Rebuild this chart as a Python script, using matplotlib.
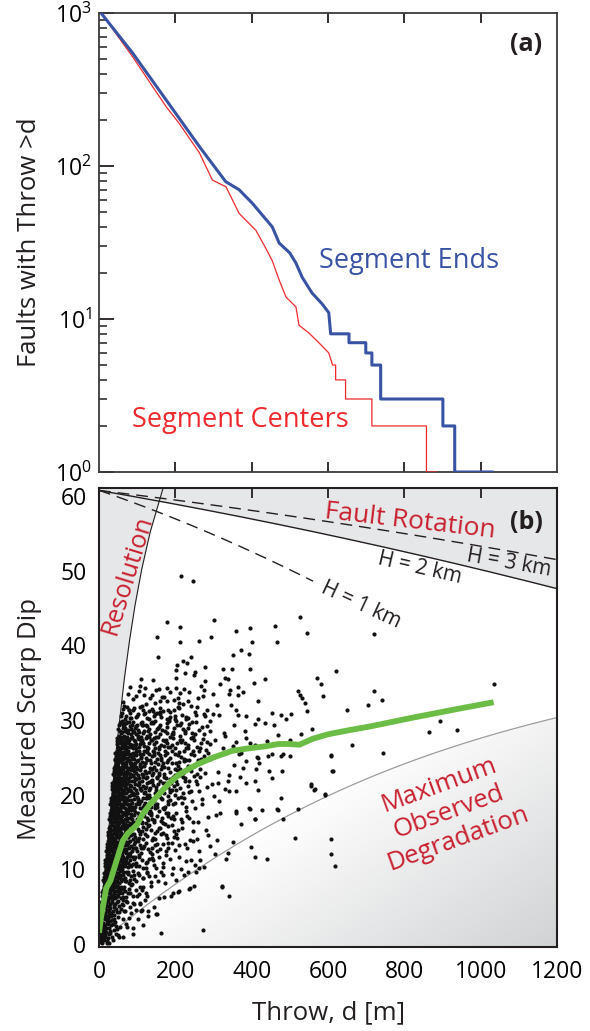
import numpy as np
import matplotlib
matplotlib.use("Agg")
import matplotlib.pyplot as plt
from matplotlib.patches import Polygon
from matplotlib.ticker import LogLocator, NullFormatter, LogFormatterSciNotation, FixedLocator

plt.rcParams['font.family'] = ['Open Sans', 'DejaVu Sans']
plt.rcParams['mathtext.fontset'] = 'custom'
plt.rcParams['mathtext.rm'] = 'Open Sans'
plt.rcParams['mathtext.it'] = 'Open Sans:italic'
plt.rcParams['mathtext.bf'] = 'Open Sans:bold'

# ---------------- Panel (a): cumulative counts ----------------
ends_throw = [0, 6, 88, 176, 263, 332, 367, 402, 454, 472, 500, 516, 532, 558, 584, 602,
              607, 655, 655, 699, 699, 715, 715, 738, 738, 901, 901, 932, 932, 1030]
ends_count = [1100, 995, 548, 270, 134, 79, 70, 57, 40, 31.4, 27, 23.2, 18.8, 14.8, 12.6, 11,
              8, 8, 7, 7, 6, 6, 5, 5, 3, 3, 2, 2, 1, 1]
centers_throw = [0, 6, 88, 176, 210, 263, 297, 333, 367, 411, 437, 454, 472, 490, 516, 524,
                 550, 576, 602, 612, 620, 620, 646, 646, 715, 715, 858, 858, 885]
centers_count = [1100, 995, 518, 244, 190, 122, 81, 73, 49, 38, 29, 24, 18, 13.9, 12, 9.1,
                 8.1, 7, 6, 5, 5, 4, 4, 3, 3, 2, 2, 1, 1]

# ---------------- Panel (b): scarp dip vs throw ----------------
green_throw = [0, 5, 19, 30, 45, 62, 75, 88, 100, 114, 135, 158, 185, 210, 240, 263, 300,
               350, 390, 437, 470, 498, 525, 560, 600, 650, 715, 819, 950, 1034]
green_dip = [1.5, 3.5, 7.5, 8.5, 11.0, 13.8, 14.8, 15.4, 16.0, 17.4, 18.8, 20.1, 21.6, 22.7,
             23.6, 24.2, 25.0, 25.9, 26.2, 26.5, 26.8, 26.8, 26.7, 27.5, 28.1, 28.6, 29.2,
             30.3, 31.6, 32.4]

res_dip = [0, 5, 10, 15, 20, 25, 30, 35, 40, 45, 50, 55, 61.1]
res_throw = [0, 8, 16, 25, 34, 43, 54, 65, 78, 93, 111, 133, 168]

degr_throw = [0, 40, 112, 216, 330, 434, 521, 626, 733, 890, 1200]
degr_dip = [0, 1.8, 4.8, 8.8, 12.4, 15.3, 17.8, 20.6, 22.6, 26.0, 30.3]

rot_throw = [0, 250, 472, 800, 1200]
rot_h2_dip = [60.8, 58.4, 56.2, 52.6, 47.6]
rot_h3_dip = [60.8, 59.1, 57.6, 55.0, 51.5]
rot_h1_throw = [0, 250, 400, 561]
rot_h1_dip = [60.8, 55.9, 52.6, 48.6]

# dense cluster, first reading (by 2-degree band)
dense_pts = [
 (1,0.3),(3,0.8),(2,1.5),(5,0.5),(6,1.2),(8,1.8),(4,1.9),(10,0.7),(12,1.4),(9,0.2),(14,1.9),(16,0.9),
 (19,1.6),(22,0.4),(25,1.3),(28,1.8),(33,0.9),(7,0.6),(11,1.1),(2,0.6),
 (2,2.4),(4,3.1),(6,2.2),(8,3.6),(10,2.8),(12,3.9),(13,2.3),(15,3.3),(17,2.6),(19,3.8),(21,2.9),(24,3.5),
 (26,2.2),(29,3.1),(32,3.8),(36,2.7),(40,3.4),(45,2.4),(3,3.7),(9,2.1),(16,3.9),
 (5,4.3),(7,5.2),(9,4.6),(11,5.8),(13,4.2),(14,5.4),(16,4.8),(18,5.9),(20,4.4),(22,5.1),(24,5.7),(27,4.6),
 (29,5.3),(32,4.1),(35,5.6),(38,4.9),(42,5.4),(46,4.3),(51,5.8),(57,4.7),(64,5.2),(10,4.1),(19,5.5),
 (8,6.4),(10,7.3),(12,6.1),(13,7.8),(15,6.7),(17,7.2),(18,6.2),(20,7.7),(22,6.8),(24,6.3),(25,7.5),(27,6.9),
 (29,7.9),(31,6.4),(33,7.2),(36,6.6),(38,7.6),(41,6.2),(44,7.1),(47,7.8),(51,6.5),(55,7.3),(60,6.9),(66,7.7),
 (72,6.3),(79,7.4),(14,6.9),(21,6.0),(34,7.9),
 (11,8.6),(13,9.5),(15,8.2),(16,9.1),(18,8.8),(19,9.8),(21,8.4),(23,9.3),(25,8.9),(26,9.9),(28,8.3),(30,9.4),
 (32,8.7),(34,9.7),(36,8.1),(38,9.2),(40,8.6),(43,9.6),(45,8.3),(48,9.1),(51,8.8),(54,9.8),(58,8.4),(62,9.3),
 (67,8.9),(72,9.7),(78,8.2),(85,9.1),(93,8.7),(102,9.5),(17,8.0),(29,8.1),(41,9.9),
 (15,10.4),(17,11.3),(19,10.8),(20,11.9),(22,10.2),(24,11.1),(26,10.6),(27,11.7),(29,10.9),(31,11.5),(33,10.3),
 (35,11.2),(37,10.7),(39,11.8),(41,10.4),(43,11.3),(46,10.9),(48,11.6),(51,10.2),(53,11.1),(56,10.6),(59,11.9),
 (62,10.4),(65,11.4),(69,10.8),(73,11.7),(77,10.3),(82,11.2),(88,10.7),(95,11.6),(104,10.5),(113,11.3),
 (124,10.9),(138,11.5),(23,10.0),(44,10.1),(70,11.0),
 (19,12.5),(21,13.4),(23,12.2),(24,13.8),(26,12.9),(28,13.3),(30,12.4),(31,13.9),(33,12.7),(35,13.5),(37,12.1),
 (39,13.1),(41,12.8),(43,13.7),(45,12.3),(47,13.2),(50,12.6),(52,13.6),(55,12.2),(57,13.1),(60,12.9),(63,13.8),
 (66,12.4),(69,13.3),(72,12.7),(76,13.6),(80,12.2),(84,13.1),(89,12.8),(94,13.7),(100,12.4),(107,13.3),
 (115,12.9),(124,13.6),(134,12.3),(146,13.2),(160,12.7),(27,12.0),(48,12.0),(75,12.1),(38,14.0),
 (23,14.6),(25,15.5),(27,14.2),(28,15.8),(30,14.9),(32,15.3),(34,14.4),(35,15.9),(37,14.7),(39,15.2),(41,14.1),
 (43,15.6),(45,14.8),(47,15.4),(49,14.3),(51,15.7),(54,14.6),(56,15.1),(58,14.9),(61,15.8),(64,14.2),(67,15.3),
 (70,14.7),(73,15.6),(77,14.4),(81,15.2),(85,14.9),(90,15.8),(95,14.3),(101,15.4),(108,14.8),(116,15.7),
 (125,14.5),(135,15.3),(147,14.9),(160,15.6),(175,14.6),(59,14.0),(88,14.1),
 (27,16.7),(29,17.6),(31,16.3),(32,17.9),(34,16.9),(36,17.3),(38,16.5),(39,17.8),(41,16.8),(43,17.2),(45,16.1),
 (47,17.7),(49,16.9),(51,17.4),(53,16.4),(55,17.8),(58,16.6),(60,17.2),(62,16.2),(65,17.6),(68,16.8),(71,17.3),
 (74,16.5),(77,17.9),(81,16.9),(85,17.4),(89,16.3),(94,17.7),(99,16.7),(105,17.2),(111,16.4),(118,17.6),
 (126,16.9),(135,17.3),(145,16.6),(156,17.8),(168,16.2),(182,17.1),(196,16.7),(46,16.0),(70,16.0),(100,16.1),
 (30,18.8),(32,19.6),(34,18.3),(36,19.9),(37,18.9),(39,19.3),(41,18.5),(43,19.8),(45,18.7),(47,19.2),(49,18.1),
 (51,19.7),(53,18.9),(55,19.4),(57,18.4),(60,19.8),(62,18.6),(65,19.2),(67,18.2),(70,19.6),(73,18.8),(76,19.3),
 (79,18.5),(83,19.9),(87,18.9),(91,19.4),(95,18.3),(100,19.7),(105,18.7),(110,19.2),(116,18.4),(123,19.6),
 (130,18.9),(138,19.3),(147,18.6),(157,19.8),(168,18.2),(180,19.1),(193,18.7),(208,19.5),(56,18.0),(85,18.0),
 (120,18.1),
 (33,20.8),(35,21.6),(37,20.3),(39,21.9),(41,20.9),(43,21.3),(45,20.5),(47,21.8),(49,20.7),(51,21.2),(53,20.1),
 (55,21.7),(57,20.9),(59,21.4),(61,20.4),(64,21.8),(66,20.6),(69,21.2),(71,20.2),(74,21.6),(77,20.8),(80,21.3),
 (83,20.5),(87,21.9),(91,20.9),(95,21.4),(99,20.3),(104,21.7),(109,20.7),(114,21.2),(120,20.4),(127,21.6),
 (134,20.9),(142,21.3),(150,20.6),(159,21.8),(169,20.2),(180,21.1),(192,20.7),(205,21.5),(219,20.3),(234,21.2),
 (60,20.0),(93,20.1),(130,20.0),
 (37,22.8),(39,23.6),(41,22.3),(43,23.9),(45,22.9),(47,23.3),(49,22.5),(51,23.8),(53,22.7),(55,23.2),(57,22.1),
 (59,23.7),(61,22.9),(63,23.4),(66,22.4),(68,23.8),(71,22.6),(73,23.2),(76,22.2),(79,23.6),(82,22.8),(85,23.3),
 (89,22.5),(92,23.9),(96,22.9),(100,23.4),(105,22.3),(110,23.7),(115,22.7),(121,23.2),(127,22.4),(134,23.6),
 (141,22.9),(149,23.3),(157,22.6),(166,23.8),(176,22.2),(187,23.1),(199,22.7),(212,23.5),(226,22.3),(241,23.2),
 (258,22.8),(64,22.0),(98,22.1),(140,22.0),
 (41,24.8),(43,25.6),(45,24.3),(47,25.9),(49,24.9),(51,25.3),(53,24.5),(55,25.8),(57,24.7),(60,25.2),(62,24.1),
 (64,25.7),(67,24.9),(69,25.4),(72,24.4),(75,25.8),(78,24.6),(81,25.2),(84,24.2),(88,25.6),(92,24.8),(96,25.3),
 (100,24.5),(105,25.9),(110,24.9),(115,25.4),(121,24.3),(127,25.7),(133,24.7),(140,25.2),(147,24.4),(155,25.6),
 (163,24.9),(172,25.3),(182,24.6),(192,25.8),(203,24.2),(215,25.1),(228,24.7),(242,25.5),(258,24.3),(275,25.2),
 (70,24.0),(108,24.1),
 (46,26.8),(48,27.6),(50,26.3),(53,27.9),(55,26.9),(57,27.3),(60,26.5),(62,27.8),(65,26.7),(67,27.2),(70,26.1),
 (73,27.7),(76,26.9),(79,27.4),(82,26.4),(86,27.8),(90,26.6),(94,27.2),(98,26.2),(103,27.6),(108,26.8),(113,27.3),
 (119,26.5),(125,27.9),(132,26.9),(139,27.4),(146,26.3),(154,27.7),(163,26.7),(172,27.2),(182,26.4),(193,27.6),
 (205,26.9),(218,27.3),(232,26.6),(247,27.8),(264,26.2),(282,27.1),
 (51,28.8),(54,29.6),(57,28.3),(60,29.9),(63,28.9),(66,29.3),(69,28.5),(73,29.8),(77,28.7),(81,29.2),(85,28.1),
 (90,29.7),(95,28.9),(100,29.4),(106,28.4),(112,29.8),(119,28.6),(126,29.2),(134,28.2),(142,29.6),(151,28.8),
 (161,29.3),(172,28.5),(184,29.9),(197,28.9),(211,29.4),(226,28.3),(243,29.7),(262,28.7),(283,29.2),
 (57,30.6),(62,31.5),(68,30.2),(74,31.8),(81,30.9),(89,31.3),(98,30.4),(108,31.7),(119,30.8),(131,31.2),
 (145,30.5),(160,31.6),(177,30.1),(196,31.4),(217,30.7),(240,31.9),
 (64,32.4),(75,33.5),(90,32.8),(105,33.9),(122,32.2),(140,33.3),(160,32.6),(185,33.8),(210,32.3),
 (112,7.2),(125,9.6),(140,12.1),(155,8.4),(168,10.8),(182,13.5),(195,6.9),(210,11.7),(224,9.2),(238,13.9),
 (250,7.8),(262,12.4),(275,10.3),(120,5.9),(135,7.8),(150,10.2),(170,6.3),(190,9.4),(205,14.2),(230,12.9),
 (245,15.1),(260,16.4),(285,14.6),(215,16.8),(190,15.9),(175,11.9),(158,6.1),(143,4.9),(128,3.8),
]

# dense cluster, second reading (fills between the first)
dense_pts_2 = [
 (3,1.1),(6,0.3),(9,1.5),(13,0.5),(17,1.2),(20,0.2),(24,0.8),(30,1.5),(37,0.6),(44,1.4),(52,0.9),(15,1.7),
 (27,0.1),(40,1.9),
 (5,2.9),(7,3.5),(11,2.5),(14,3.7),(18,2.1),(23,2.7),(27,3.8),(31,2.5),(34,3.2),(38,3.9),(43,2.9),(49,3.6),
 (55,2.3),(62,3.3),(70,2.7),(78,3.5),(88,2.2),(20,3.4),(47,2.0),
 (6,5.6),(8,4.9),(12,5.0),(15,4.1),(17,5.3),(21,5.8),(23,4.6),(26,5.1),(30,4.8),(33,5.9),(36,4.4),(40,5.2),
 (44,4.7),(48,5.6),(53,4.3),(59,5.4),(66,4.4),(72,5.7),(80,4.9),(88,5.5),(97,4.5),(107,5.3),(25,4.0),(62,5.9),
 (9,7.0),(11,6.7),(14,7.5),(16,6.3),(19,7.4),(23,7.1),(26,6.2),(28,7.4),(30,6.8),(32,7.6),(35,6.1),(37,7.3),
 (40,6.9),(42,7.7),(46,6.6),(49,7.2),(53,6.8),(57,7.6),(62,6.3),(68,7.1),(75,6.8),(83,7.9),(90,6.5),(98,7.3),
 (106,6.7),(115,7.6),(126,6.4),
 (12,8.3),(14,9.0),(17,9.5),(20,8.6),(22,9.7),(24,8.4),(27,9.1),(29,8.6),(31,9.9),(33,8.3),(35,9.3),(37,8.8),
 (39,9.6),(42,8.2),(44,9.0),(47,8.5),(50,9.5),(53,8.2),(56,9.2),(60,8.7),(64,9.6),(69,8.4),(75,9.4),(81,8.6),
 (88,9.8),(96,8.4),(105,9.2),(114,8.8),(125,9.5),(137,8.3),(148,9.1),
 (16,10.9),(18,10.1),(21,11.5),(23,10.6),(25,11.8),(28,10.3),(30,11.2),(32,10.8),(34,11.9),(36,10.2),(38,11.4),
 (40,10.9),(42,11.7),(45,10.5),(47,11.4),(50,10.7),(52,11.8),(55,10.3),(58,11.3),(61,10.9),(64,11.7),(67,10.4),
 (71,11.4),(75,10.8),(80,11.8),(85,10.4),(91,11.4),(98,10.9),(106,11.9),(115,10.2),(127,11.0),(143,10.6),
 (156,11.7),(168,10.3),
 (20,13.0),(22,12.6),(25,13.5),(27,12.4),(29,13.7),(32,12.9),(34,13.4),(36,12.5),(38,13.9),(40,12.3),(42,13.4),
 (44,12.9),(46,13.7),(49,12.2),(51,13.3),(54,12.8),(56,13.9),(59,12.3),(62,13.4),(65,12.7),(68,13.8),(71,12.2),
 (74,13.3),(78,12.9),(82,13.8),(87,12.5),(92,13.4),(97,12.9),(103,13.8),(110,12.2),(119,13.1),(128,12.7),
 (140,13.9),(152,12.5),(167,13.4),(180,12.9),(190,13.6),
 (24,15.0),(26,14.4),(29,15.4),(31,14.7),(33,15.9),(36,14.2),(38,15.5),(40,14.9),(42,15.8),(44,14.3),(46,15.2),
 (48,14.9),(50,15.9),(53,14.4),(55,15.4),(57,14.7),(60,15.5),(63,14.2),(66,15.7),(69,14.9),(72,15.2),(75,14.3),
 (79,15.9),(83,14.6),(87,15.5),(92,14.7),(98,15.9),(104,14.2),(112,15.1),(120,14.8),(130,15.9),(141,14.2),
 (153,15.1),(167,14.9),(182,15.8),(196,14.4),(208,15.3),
 (28,17.1),(30,16.6),(33,17.5),(35,16.2),(37,17.7),(40,16.9),(42,17.6),(44,16.4),(46,17.3),(48,16.7),(50,17.9),
 (52,16.2),(54,17.2),(57,16.8),(59,17.7),(61,16.5),(64,17.4),(67,16.1),(70,17.8),(73,16.9),(76,17.5),(80,16.2),
 (83,17.2),(87,16.8),(92,17.9),(97,16.4),(102,17.6),(108,16.9),(115,17.9),(122,16.2),(131,17.5),(140,16.8),
 (151,17.2),(162,16.5),(175,17.6),(189,16.9),(203,17.5),(217,16.4),(230,17.2),
 (31,19.2),(33,18.6),(35,19.5),(38,18.2),(40,19.8),(42,18.9),(44,19.5),(46,18.4),(48,19.6),(50,18.7),(52,19.3),
 (54,18.2),(56,19.9),(59,18.8),(61,19.4),(63,18.3),(66,19.7),(69,18.9),(72,19.5),(75,18.1),(78,19.8),(81,18.7),
 (85,19.3),(89,18.4),(93,19.9),(98,18.8),(103,19.4),(108,18.2),(114,19.6),(120,18.9),(127,19.5),(135,18.3),
 (143,19.1),(152,18.8),(162,19.6),(174,18.4),(186,19.3),(200,18.9),(214,19.7),(229,18.4),(243,19.2),
 (34,21.2),(36,20.6),(38,21.5),(40,20.2),(42,21.8),(44,20.9),(46,21.4),(48,20.4),(50,21.6),(52,20.8),(54,21.3),
 (56,20.3),(58,21.9),(60,20.7),(63,21.3),(65,20.2),(67,21.7),(70,20.9),(72,21.4),(75,20.5),(78,21.9),(81,20.7),
 (85,21.2),(89,20.2),(93,21.8),(97,20.6),(102,21.3),(107,20.9),(112,21.9),(117,20.2),(123,21.1),(130,20.7),
 (138,21.7),(146,20.3),(155,21.4),(164,20.8),(174,21.6),(185,20.4),(197,21.2),(211,20.9),(226,21.8),(242,20.5),
 (258,21.4),
 (38,23.2),(40,22.6),(42,23.5),(44,22.2),(46,23.8),(48,22.9),(50,23.4),(52,22.3),(54,23.6),(56,22.8),(58,23.3),
 (60,22.2),(62,23.9),(65,22.7),(67,23.1),(70,22.1),(72,23.7),(75,22.9),(77,23.5),(80,22.4),(84,23.8),(87,22.7),
 (91,23.2),(94,22.2),(98,23.7),(103,22.6),(108,23.3),(113,22.8),(118,23.9),(124,22.3),(131,23.1),(138,22.7),
 (145,23.7),(153,22.3),(162,23.4),(171,22.8),(181,23.6),(193,22.4),(205,23.3),(219,22.9),(233,23.8),(249,22.5),
 (265,23.4),(278,22.9),
 (42,24.6),(44,25.2),(46,24.5),(48,25.4),(50,24.3),(52,25.7),(54,24.9),(56,25.5),(59,24.2),(61,25.6),(63,24.8),
 (66,25.3),(68,24.2),(71,25.8),(73,24.9),(76,25.4),(80,24.3),(83,25.5),(86,24.8),(90,25.2),(94,24.3),(98,25.8),
 (102,24.7),(107,25.4),(112,24.4),(118,25.8),(124,24.9),(130,25.4),(137,24.2),(144,25.7),(151,24.8),(159,25.3),
 (168,24.2),(177,25.6),(187,24.9),(198,25.4),(210,24.4),(222,25.8),(236,24.6),(250,25.3),(266,24.8),(285,25.6),
 (47,27.2),(49,26.4),(52,27.5),(54,26.2),(56,27.7),(59,26.9),(61,27.4),(64,26.3),(66,27.9),(69,26.8),(71,27.5),
 (74,26.4),(77,27.3),(80,26.8),(84,27.6),(88,26.3),(92,27.4),(96,26.8),(101,27.9),(106,26.4),(111,27.1),
 (116,26.9),(122,27.6),(129,26.2),(136,27.3),(143,26.8),(150,27.8),(158,26.4),(167,27.3),(177,26.9),(187,27.8),
 (198,26.3),(211,27.4),(225,26.9),(240,27.6),(256,26.4),(273,27.5),(292,26.8),
 (52,29.3),(55,28.5),(58,29.7),(61,28.4),(64,29.4),(68,28.9),(71,29.6),(75,28.3),(79,29.7),(83,28.8),(87,29.4),
 (92,28.4),(97,29.2),(103,28.7),(109,29.6),(115,28.3),(122,29.4),(130,28.8),(138,29.8),(147,28.4),(156,29.1),
 (166,28.7),(178,29.6),(190,28.2),(204,29.3),(219,28.8),(235,29.5),(252,28.1),(270,29.1),(292,28.6),
 (60,30.9),(65,31.9),(71,30.6),(78,31.3),(85,30.3),(93,31.6),(102,30.8),(113,31.9),(125,30.3),(138,31.5),
 (152,30.9),(168,31.2),(186,30.4),(206,31.7),(228,30.2),(252,31.1),(278,30.6),
]

# dense cluster, third reading (right flank of the mass)
dense_pts_3 = [
 (82,18.4),(86,20.1),(88,22.6),(91,24.1),(94,26.6),(97,28.1),(99,30.6),(102,19.1),(104,21.4),(107,23.9),
 (109,25.1),(111,27.7),(113,29.3),(116,31.4),(118,18.6),(120,20.9),(123,22.9),(125,24.6),(127,26.4),(129,28.5),
 (132,30.1),(134,19.6),(136,21.9),(139,23.4),(141,25.9),(143,27.6),(146,29.9),(148,18.2),(150,20.2),(153,22.4),
 (155,24.1),(157,26.1),(160,28.2),(162,30.4),(165,19.4),(167,21.6),(170,23.7),(172,25.9),(175,27.4),(177,29.1),
 (180,31.3),(182,18.7),(185,20.6),(187,22.1),(190,24.3),(192,26.6),(195,28.4),(198,30.2),(200,19.9),(203,21.9),
 (206,23.8),(209,25.7),(212,27.9),(215,29.6),(218,18.9),(221,22.4),(224,24.8),(228,26.3),(232,28.9),(236,20.4),
 (240,23.6),(245,25.9),(250,27.4),(255,21.8),(260,24.6),(268,26.9),(146,32.3),(171,33.1),(197,32.7),(118,33.4),
 (133,32.9),(96,33.2),(108,34.6),(150,34.1),
 (52,5.1),(58,6.2),(64,7.4),(70,8.5),(76,9.6),(82,10.6),(88,11.7),(94,12.8),(100,13.9),(106,15.1),(112,16.3),
 (118,17.2),(56,8.9),(61,10.1),(66,11.3),(71,12.5),(76,13.7),(81,14.9),(86,16.1),(91,17.3),
 (67,4.4),(74,5.6),(80,6.9),(86,8.1),(92,9.3),(98,10.5),(104,11.6),(110,12.9),(116,14.1),(122,15.4),(128,16.6),
 (134,17.8),(84,4.1),(92,5.3),(100,6.4),(108,7.7),(116,8.9),(124,10.2),(132,11.4),(140,12.8),(148,14.1),
 (156,15.5),(164,16.9),(102,3.4),(112,4.6),(122,6.8),(132,9.1),(142,11.2),(152,13.4),(162,14.8),(172,16.1),
 (180,17.5),(44,6.3),(49,7.6),(54,9.9),(58,11.4),(63,12.6),(47,10.6),(52,12.9),(57,14.6),(62,16.3),(67,17.5),
 (35,17.9),(40,19.6),(45,21.7),(50,23.6),(55,25.6),(60,27.6),(65,29.6),(38,16.5),(44,18.2),(50,20.1),(56,22.1),
 (62,24.3),(68,26.3),(74,28.4),(80,30.3),(48,16.9),(55,18.7),(62,20.7),(69,22.6),(76,24.7),(83,26.6),(90,28.6),
 (58,15.6),(66,17.4),(74,19.3),(82,21.2),(90,23.4),(98,25.5),(106,27.5),(114,29.4),
]

# dense cluster, fourth reading (outer right flank)
dense_pts_4 = [
 (101,16.8),(106,18.9),(111,20.6),(116,22.4),(121,24.2),(126,26.0),(131,27.8),(136,29.6),(141,31.2),
 (113,16.2),(119,18.1),(125,19.9),(131,21.7),(137,23.5),(143,25.3),(149,27.1),(155,28.9),(161,30.8),
 (128,15.8),(135,17.6),(142,19.3),(149,21.1),(156,22.9),(163,24.7),(170,26.5),(177,28.3),(184,30.1),
 (145,16.3),(153,18.4),(161,20.4),(169,22.4),(177,24.4),(185,26.4),(193,28.1),(201,29.9),(209,31.6),
 (171,18.1),(180,19.8),(189,21.6),(198,23.4),(207,25.3),(216,27.1),(225,28.6),(234,30.3),
 (193,17.2),(203,20.7),(213,22.6),(223,24.5),(233,26.2),(243,28.3),(253,29.8),
 (222,19.6),(235,21.9),(248,23.9),(262,25.8),(276,28.2),(290,29.9),(300,25.1),(312,21.6),
 (162,9.7),(174,8.2),(186,11.4),(198,12.6),(214,10.1),(226,13.4),(241,11.2),(256,14.1),(188,6.4),(202,8.6),
 (178,14.2),(196,15.2),(218,15.5),(235,16.9),(252,18.2),(270,19.4),(284,21.1),
]

sparse_pts = [
 (216,49.3),(247,48.6),(177,43.1),(212,42.5),(302,43.4),(152,41.2),(212,40.5),(262,40.6),(293,41.2),(360,41.9),
 (395,42.4),(401,40.5),(460,42.6),(467,40.4),(526,43.8),(546,41.7),(154,38.4),(352,38.7),(371,39.4),(393,38.8),
 (204,37.4),(221,37.9),(230,37.7),(241,38.5),(203,36.7),(225,36.3),(251,36.5),(278,37.1),(326,36.9),(349,36.9),
 (395,36.9),(109,35.5),(141,35.4),(201,35.7),(249,36.0),(279,35.2),(330,35.6),(337,35.5),(434,35.5),(81,34.5),
 (121,34.3),(157,34.2),(179,34.3),(201,34.3),(223,34.2),(267,34.6),(276,34.1),(317,34.8),(343,34.1),(365,34.4),
 (406,35.0),(164,33.1),(212,33.6),(236,33.7),(260,33.0),(273,33.2),(299,33.5),(340,33.5),(365,33.4),(376,33.7),
 (417,32.6),(79,31.3),(177,32.5),(208,32.9),(221,32.1),(234,32.6),(258,31.8),(282,31.4),(308,32.0),(347,32.0),
 (360,31.4),(121,31.0),(147,30.8),(160,31.1),(186,31.1),(199,30.5),(227,30.4),(253,30.7),(276,30.8),(299,30.8),
 (314,30.7),(365,30.7),(386,30.5),(417,30.2),(452,31.0),(476,30.7),(491,30.2),(502,30.8),(521,33.9),(526,33.4),
 (532,33.0),(539,32.3),(546,31.2),(572,35.7),(581,34.9),(588,33.2),(622,36.6),(559,28.8),(529,28.1),(459,29.4),
 (434,29.6),(408,29.5),(382,28.5),(354,29.4),(328,28.3),(373,25.6),(417,24.9),(452,25.5),(476,25.2),(609,25.3),
 (360,17.6),(395,18.1),(408,16.7),(427,17.9),(469,18.0),(482,16.7),(521,18.1),(556,21.4),(565,20.8),(591,20.0),
 (613,23.2),(476,19.6),(452,22.3),(480,23.2),(500,25.2),(443,25.2),(408,21.8),(386,21.6),(360,20.5),(417,20.7),
 (378,23.6),(413,25.0),(513,14.2),(607,14.1),(607,12.1),(619,10.4),(397,13.0),(410,11.7),(441,11.4),(352,13.7),
 (339,12.2),(334,11.4),(323,7.7),(341,6.4),(372,16.1),(308,14.0),(304,12.0),(291,13.1),(264,11.3),(251,10.6),
 (238,7.5),(208,7.0),(253,9.6),(234,9.7),(273,1.9),(163,1.5),(116,2.6),(90,1.3),(64,1.0),(51,1.2),(73,2.3),
 (108,5.5),(129,4.4),(151,4.0),(720,41.6),(720,33.9),(742,32.7),(705,32.0),(650,31.4),(1036,34.9),(893,29.9),
 (864,28.4),(938,28.7),(662,26.7),(744,25.6),(607,25.2),(611,23.2),(555,21.2),(563,20.7),(592,20.1),
 (210,7.1),(236,7.4),(322,7.8),(110,4.4),(150,4.0),(306,17.3),(359,17.8),(393,18.2),(466,18.1),(409,16.8),
 (367,25.4),(385,24.5),(411,23.4),(446,23.2),(481,25.4),(341,22.7),(297,21.4),(263,20.5),(341,20.5),(315,19.1),
 (271,18.7),(228,17.8),(245,16.4),(280,15.3),(202,14.7),(210,13.3),(245,13.8),(176,12.4),(228,11.1),(193,10.2),
 (167,9.3),(263,10.2),(290,24.8),(312,23.1),(325,26.2),(338,21.9),(355,24.0),(370,22.4),(395,26.9),(420,24.3),
 (300,19.8),(318,17.5),(286,17.0),(330,20.8),(350,26.5),(265,22.4),(280,26.0),(305,27.4),(330,27.9),(360,27.1),
 (385,27.6),(410,26.6),(440,27.2),(470,28.0),(500,27.3),
]

x_ticks = [0, 200, 400, 600, 800, 1000, 1200]
y_ticks_b = [0, 10, 20, 30, 40, 50, 60]

# ---------------- styling ----------------
GRAY = '#e6e7e8'
INK = '#231f20'
RED_LABEL = '#c8202f'
BLUE = '#3953a4'
RED = '#ee2a2e'
GREEN = '#6cbd45'
TICK_FS = 16.5
LABEL_FS = 18.5

W, H = 590, 1031
fig = plt.figure(figsize=(W / 100, H / 100), dpi=100)
ax1 = fig.add_axes([99 / W, 1 - 472 / H, 458 / W, 459 / H])
ax2 = fig.add_axes([99 / W, 1 - 947 / H, 458 / W, 459 / H])

# ---- panel (a) ----
ax1.plot(centers_throw, centers_count, color=RED, lw=0.9, zorder=3)
ax1.plot(ends_throw, ends_count, color=BLUE, lw=2.2, zorder=4)
ax1.set_yscale('log')
ax1.set_xlim(0, 1200)
ax1.set_ylim(1, 1000)
ax1.set_xticks([200, 400, 600, 800, 1000])
ax1.tick_params(axis='x', which='both', direction='in', top=True, bottom=True,
                labelbottom=False, length=7, width=1.3, color=INK)
ax1.yaxis.set_major_locator(LogLocator(base=10, numticks=10))
ax1.yaxis.set_minor_locator(LogLocator(base=10, subs=np.arange(2, 10), numticks=10))
ax1.yaxis.set_minor_formatter(NullFormatter())
ax1.yaxis.set_major_formatter(LogFormatterSciNotation())
ax1.tick_params(axis='y', which='major', direction='in', left=True, right=False,
                length=11, width=1.3, labelsize=TICK_FS, pad=5, color=INK)
ax1.tick_params(axis='y', which='minor', direction='in', left=True, right=False,
                length=6, width=1.1, color=INK)
for sp in ax1.spines.values():
    sp.set_linewidth(1.3)
    sp.set_color('#3a3a3a')
ax1.text(812, 23.9, 'Segment Ends', color=BLUE, fontsize=19.5, ha='center', va='center')
ax1.text(370, 2.19, 'Segment Centers', color=RED, fontsize=19.5, ha='center', va='center')
ax1.text(1120, 627, '(a)', fontsize=18, fontweight='bold', ha='center', va='center', color=INK)

# ---- panel (b) ----
Y0, Y1 = -0.4, 61.1
ax2.set_xlim(0, 1200)
ax2.set_ylim(Y0, Y1)

# resolution region
rd = np.linspace(0, Y1, 300)
rt = np.interp(rd, res_dip, res_throw)
ax2.fill_betweenx(np.concatenate([[Y0], rd]), 0, np.concatenate([[0], rt]), color=GRAY, lw=0, zorder=0.5)
ax2.plot(rt, rd, color=INK, lw=0.8, zorder=1)

# fault rotation curves
xs = np.linspace(0, 1200, 400)
h2 = np.polyval(np.polyfit(rot_throw, rot_h2_dip, 2), xs)
h3 = np.polyval(np.polyfit(rot_throw, rot_h3_dip, 2), xs)
xs1 = np.linspace(0, rot_h1_throw[-1], 200)
h1 = np.polyval(np.polyfit(rot_h1_throw, rot_h1_dip, 2), xs1)
ax2.fill_between(xs, h2, Y1, color=GRAY, lw=0, zorder=0.5)
ax2.plot(xs, h2, color=INK, lw=1.0, zorder=1)
l3, = ax2.plot(xs, h3, color=INK, lw=1.0, zorder=1)
l3.set_dashes([8.5, 5])
l1, = ax2.plot(xs1, h1, color=INK, lw=1.0, zorder=1)
l1.set_dashes([8.5, 5])

# degradation region with gradient
dcoef = np.polyfit(degr_throw, degr_dip, 3)
dg = np.polyval(dcoef, xs)
dg[0] = 0
ax2.plot(xs, dg, color='#9d9d9d', lw=0.9, zorder=1)
n = 300
gx, gy = np.meshgrid(np.linspace(0, 1, n), np.linspace(0, 1, n))
s = 0.55 * gx - 0.835 * gy
t = np.clip((s + 0.02) / 0.57, 0, 1)
end = np.array([0.82, 0.825, 0.832])
img = 1 - t[..., None] * (1 - end)
im = ax2.imshow(img, extent=[0, 1, 0, 1], transform=ax2.transAxes, origin='lower',
                aspect='auto', zorder=0.6, interpolation='bilinear')
poly = Polygon(np.column_stack([np.concatenate([xs, [1200, 0]]),
                                np.concatenate([dg, [Y0, Y0]])]),
               closed=True, transform=ax2.transData)
im.set_clip_path(poly)
ax2.set_xlim(0, 1200)
ax2.set_ylim(Y0, Y1)

# scatter
pts = np.array(dense_pts + dense_pts_2 + dense_pts_3 + dense_pts_4 + sparse_pts, dtype=float)
ax2.scatter(pts[:, 0], pts[:, 1], s=9, color='#111111', linewidths=0, zorder=2)

# running median
ax2.plot(green_throw, green_dip, color=GREEN, lw=4.2, solid_capstyle='butt',
         solid_joinstyle='round', zorder=3)

# annotations
ax2.text(74, 49.4, 'Resolution', color=RED_LABEL, fontsize=18, rotation=73,
         ha='center', va='center', rotation_mode='anchor', zorder=4)
ax2.text(814, 56.6, 'Fault Rotation', color=RED_LABEL, fontsize=19, rotation=-6.6,
         ha='center', va='center', rotation_mode='anchor', zorder=4)
ax2.text(916, 17.7, 'Maximum\nObserved\nDegradation', color=RED_LABEL, fontsize=18.5,
         rotation=20, ha='center', va='center', rotation_mode='anchor', multialignment='center',
         linespacing=1.2, zorder=4)
ax2.text(686, 45.4, 'H = 1 km', color=INK, fontsize=15, rotation=-25,
         ha='center', va='center', rotation_mode='anchor', zorder=4)
ax2.text(841, 50.3, 'H = 2 km', color=INK, fontsize=15, rotation=-13,
         ha='center', va='center', rotation_mode='anchor', zorder=4)
ax2.text(1073, 51.1, 'H = 3 km', color=INK, fontsize=15, rotation=-10,
         ha='center', va='center', rotation_mode='anchor', zorder=4)
ax2.text(1120, 56.5, '(b)', fontsize=18, fontweight='bold', ha='center', va='center',
         color=INK, zorder=4)

ax2.set_xticks(x_ticks)
ax2.set_xticklabels([str(v) for v in x_ticks])
ax2.set_yticks(y_ticks_b)
ax2.set_yticklabels([str(v) for v in y_ticks_b])
ax2.tick_params(axis='x', which='major', direction='in', top=True, bottom=False,
                length=7, width=1.3, labelsize=TICK_FS, pad=9, color=INK)
ax2.xaxis.set_minor_locator(FixedLocator([1000]))
ax2.tick_params(axis='x', which='minor', direction='in', top=False, bottom=True,
                length=7, width=1.3, color=INK)
ax2.tick_params(axis='y', which='major', length=0, labelsize=TICK_FS, pad=9)
for sp in ax2.spines.values():
    sp.set_linewidth(1.5)
    sp.set_color(INK)
    sp.set_zorder(5)

# axis labels
fig.text(30 / W, 1 - 242 / H, 'Faults with Throw >d', rotation=90, ha='center', va='center',
         fontsize=LABEL_FS, color=INK)
fig.text(30 / W, 1 - 719 / H, 'Measured Scarp Dip', rotation=90, ha='center', va='center',
         fontsize=LABEL_FS, color=INK)
fig.text(328.5 / W, 1 - 1013 / H, 'Throw, d [m]', ha='center', va='center',
         fontsize=LABEL_FS, color=INK)

fig.savefig('out.png', dpi=100)
